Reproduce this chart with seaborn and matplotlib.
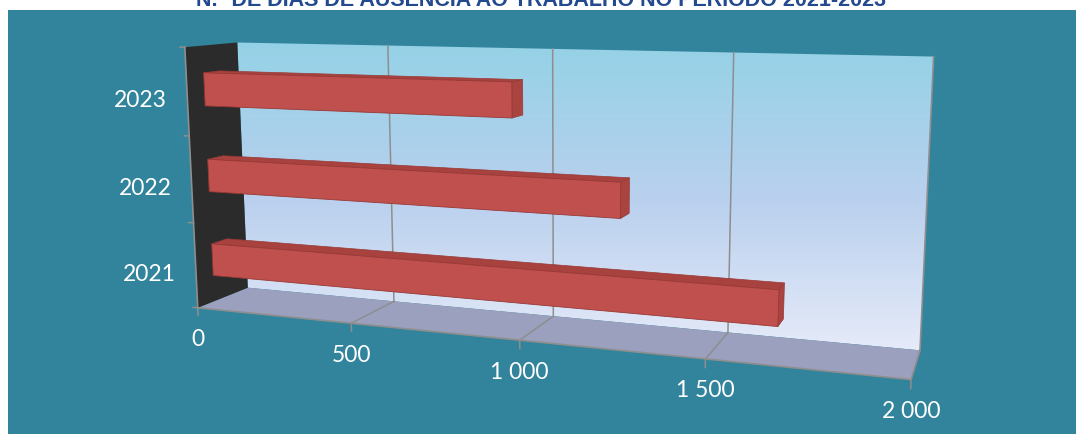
import numpy as np
import pandas as pd
import matplotlib
matplotlib.use('Agg')
import matplotlib.pyplot as plt
import matplotlib.transforms as mtransforms
from matplotlib.patches import Polygon, Rectangle
from matplotlib.lines import Line2D
from matplotlib.colors import LinearSegmentedColormap
import seaborn as sns

# ---------------- data ----------------
years = ['2023', '2022', '2021']
dias = [950, 1250, 1665]
x_ticks = [0, 500, 1000, 1500, 2000]
x_tick_labels = ['0', '500', '1 000', '1 500', '2 000']
title = 'N.º DE DIAS DE AUSÊNCIA AO TRABALHO NO PERÍODO 2021-2023'

# ---------------- style ----------------
TEAL = '#31849B'
BAR_FRONT = '#C0504D'
BAR_TOP = '#A8423F'
BAR_CAP = '#A94441'
GRID = '#8E8E8E'
FLOOR = '#9AA0BE'
SIDE = '#2B2B2B'
LABEL_FONT = ['Lato', 'DejaVu Sans']

W, H = 1076, 435
fig = plt.figure(figsize=(W / 100, H / 100), dpi=100, facecolor='white')
fig.add_artist(Rectangle((8 / W, 0), 1 - 8 / W, 1 - 11 / H, transform=fig.transFigure,
                         facecolor=TEAL, edgecolor='none', zorder=-5))

fig.text(0.503, 1 - 6 / H, title, ha='center', va='baseline', color='#23498E',
         fontsize=15.5, fontweight='bold',
         family=['Liberation Sans Narrow', 'Liberation Sans', 'DejaVu Sans'])

# ------------- perspective camera (3D box layout) -------------
# world (u = value fraction, w = height fraction, d = depth 0 front..1 back) -> image px
world = np.array([
    (0, 1, 1), (1, 1, 1), (1, 0, 1), (0, 0, 1),
    (0, 1, 0), (0, 0, 0), (1, 0, 0),
    (0.25, 0, 0), (0.5, 0, 0), (0.75, 0, 0),
    (0.25, 1, 1), (0.5, 1, 1), (0.75, 1, 1)], float)
img = np.array([
    (237, 44), (933, 57), (920, 352), (248, 288),
    (185, 48), (197, 308), (911, 380),
    (352, 325), (520, 342), (705, 360),
    (388, 47), (552, 50), (735, 53)], float)


def fit_camera(world, img):
    rows = []
    for (X, Y, Z), (x, y) in zip(world, img / 1000.0):
        rows.append([X, Y, Z, 1, 0, 0, 0, 0, -x * X, -x * Y, -x * Z, -x])
        rows.append([0, 0, 0, 0, X, Y, Z, 1, -y * X, -y * Y, -y * Z, -y])
    _, _, vt = np.linalg.svd(np.array(rows))
    P = vt[-1].reshape(3, 4)
    return np.diag([1000.0, 1000.0, 1.0]) @ P


P = fit_camera(world, img)
S = np.array([[1 / W, 0, 0], [0, -1 / H, 1], [0, 0, 1]])
PF = S @ P  # world -> figure fraction (homogeneous)


class Homog(mtransforms.Transform):
    input_dims = 2
    output_dims = 2
    is_separable = False
    has_inverse = True

    def __init__(self, Hm):
        super().__init__()
        self.Hm = np.asarray(Hm, float)

    def transform_non_affine(self, values):
        v = np.atleast_2d(np.asarray(values, float))
        h = np.column_stack([v, np.ones(len(v))]) @ self.Hm.T
        return h[:, :2] / h[:, 2:3]

    def inverted(self):
        return Homog(np.linalg.inv(self.Hm))


def plane_depth(d):   # (u, w) at depth d
    return np.array([[1, 0, 0], [0, 1, 0], [0, 0, d], [0, 0, 1]], float)


def plane_floor():    # (u, d) at w = 0
    return np.array([[1, 0, 0], [0, 0, 0], [0, 1, 0], [0, 0, 1]], float)


def plane_side():     # (d, w) at u = 0
    return np.array([[0, 0, 0], [0, 1, 0], [1, 0, 0], [0, 0, 1]], float)


def ptrans(M):
    return Homog(PF @ M) + fig.transFigure


def proj(u, w, d):
    h = PF @ np.array([u, w, d, 1.0])
    return h[:2] / h[2]


# ---------------- background scene ----------------
bg = fig.add_axes([0, 0, 1, 1], zorder=0)
bg.axis('off')
unit = [(0, 0), (1, 0), (1, 1), (0, 1)]

wall_cmap = LinearSegmentedColormap.from_list(
    'wall', [(0, '#93D2E6'), (0.5, '#B9D0EE'), (1.0, '#E8ECF9')])
grad = np.linspace(0, 1, 256).reshape(-1, 1)
im = bg.imshow(grad, extent=(225, 945, 360, 38), aspect='auto', cmap=wall_cmap,
               origin='upper', zorder=1)
wall = Polygon(unit, closed=True, transform=ptrans(plane_depth(1)),
               facecolor='none', edgecolor='none')
bg.add_artist(wall)
im.set_clip_path(wall)

floor = Polygon(unit, closed=True, transform=ptrans(plane_floor()),
                facecolor=FLOOR, edgecolor='none', zorder=2)
bg.add_artist(floor)
side = Polygon(unit, closed=True, transform=ptrans(plane_side()),
               facecolor=SIDE, edgecolor='none', zorder=2)
bg.add_artist(side)
bg.set_xlim(0, W)
bg.set_ylim(H, 0)

# ---------------- bars (seaborn) ----------------
df = pd.DataFrame({'ano': years, 'dias': dias})
ax = fig.add_axes([0, 0, 1, 1], zorder=1)
ax.patch.set_alpha(0)
sns.barplot(data=df, x='dias', y='ano', order=years, orient='h', ax=ax,
            color=BAR_FRONT, width=0.38, errorbar=None, linewidth=0,
            saturation=1)
ax.set_xlim(x_ticks[0], x_ticks[-1])
ax.set_ylim(len(years) - 0.5, -0.5)
ax.axis('off')

D_FRONT, D_BACK = 0.32, 0.62
front_tr = ax.transLimits + ptrans(plane_depth(D_FRONT))


def to_unit(x, y):
    return ax.transLimits.transform((x, y))


# grid lines on wall and floor, from the tick values
for t in x_ticks:
    u = to_unit(t, 0)[0]
    if 0 < t < x_ticks[-1]:
        p0, p1, p2 = proj(u, 0, 1), proj(u, 1, 1), proj(u, 0, 0)
        bg.add_artist(Line2D([p0[0], p1[0]], [p0[1], p1[1]], transform=fig.transFigure,
                             color=GRID, lw=1.1, zorder=3))
        bg.add_artist(Line2D([p0[0], p2[0]], [p0[1], p2[1]], transform=fig.transFigure,
                             color=GRID, lw=1.1, zorder=3))
    # tick mark below front edge
    a, b = proj(u, 0, 0), proj(u, -0.03, 0)
    bg.add_artist(Line2D([a[0], b[0]], [a[1], b[1]], transform=fig.transFigure,
                         color=GRID, lw=1.1, zorder=3))
    # tick label
    fig.text(a[0], a[1] - 31 / H, x_tick_labels[x_ticks.index(t)], ha='center', va='center',
             color='white', fontsize=16.5, family=LABEL_FONT)

# box edges
edges = [((0, 0, 0), (1, 0, 0)), ((1, 0, 0), (1, 0, 1)), ((1, 0, 1), (1, 1, 1)),
         ((0, 0, 0), (0, 1, 0))]
for e0, e1 in edges:
    a, b = proj(*e0), proj(*e1)
    bg.add_artist(Line2D([a[0], b[0]], [a[1], b[1]], transform=fig.transFigure,
                         color=GRID, lw=1.2, zorder=4))

# category ticks on the front-left edge
n = len(years)
for k in range(n + 1):
    w = k / n
    a, b = proj(0, w, 0), proj(-0.008, w, 0)
    bg.add_artist(Line2D([a[0], b[0]], [a[1], b[1]], transform=fig.transFigure,
                         color=GRID, lw=1.1, zorder=4))

for i, yr in enumerate(years):
    w = to_unit(0, i)[1]
    a = proj(0, w, 0)
    fig.text(a[0] - 20 / W, a[1] - 8 / H, yr, ha='right', va='center',
             color='white', fontsize=16.5, family=LABEL_FONT)

# turn the flat seaborn bars into 3D boxes
for p in list(ax.patches):
    x0, y0 = p.get_x(), p.get_y()
    x1, y1 = x0 + p.get_width(), y0 + p.get_height()
    u0, wa = to_unit(x0, y0)
    u1, wb = to_unit(x1, y1)
    wt, wbm = max(wa, wb), min(wa, wb)
    p.set_transform(front_tr)
    p.set_zorder(3)
    p.set_edgecolor('#983835')
    p.set_linewidth(0.6)
    top = [proj(u0, wt, D_FRONT), proj(u1, wt, D_FRONT), proj(u1, wt, D_BACK), proj(u0, wt, D_BACK)]
    cap = [proj(u1, wbm, D_FRONT), proj(u1, wt, D_FRONT), proj(u1, wt, D_BACK), proj(u1, wbm, D_BACK)]
    ax.add_artist(Polygon(top, closed=True, transform=fig.transFigure,
                          facecolor=BAR_TOP, edgecolor='#983835', lw=0.5, zorder=2))
    ax.add_artist(Polygon(cap, closed=True, transform=fig.transFigure,
                          facecolor=BAR_CAP, edgecolor='#983835', lw=0.5, zorder=2))

fig.savefig('out.png', dpi=100, facecolor=fig.get_facecolor())
